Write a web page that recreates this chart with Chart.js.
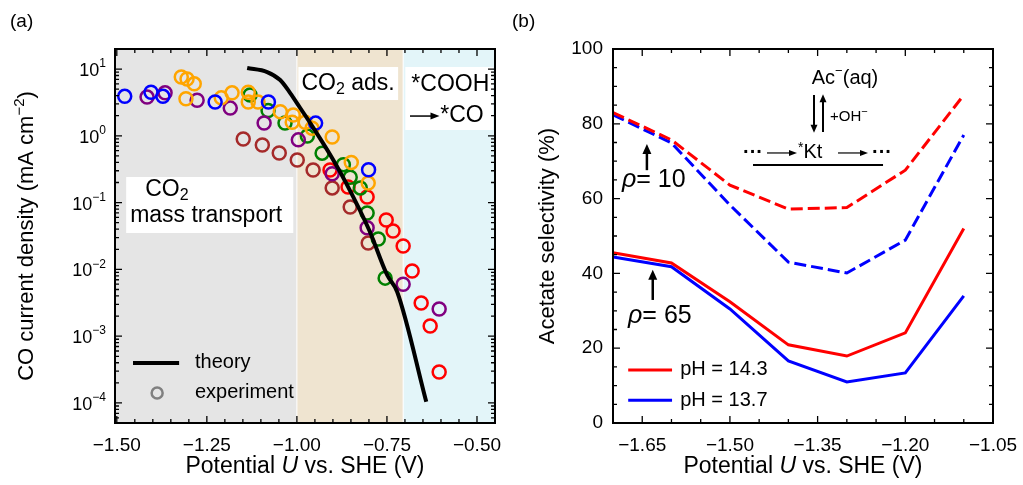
<!DOCTYPE html>
<html><head><meta charset="utf-8">
<script src="https://cdn.jsdelivr.net/npm/chart.js@4.4.1/dist/chart.umd.min.js"></script>
<style>
html,body{margin:0;padding:0;background:#fff;overflow:hidden}
#wrap{position:relative;width:1023px;height:485px;background:#fff}
#a{position:absolute;left:0;top:0}
#b{position:absolute;left:510px;top:0}
</style></head><body>
<div id="wrap"><canvas id="a" width="510" height="485"></canvas><canvas id="b" width="513" height="485"></canvas></div>
<script>
const FONT = '"Liberation Sans", Arial, Helvetica, sans-serif';

// ---------------- Panel (a) data ----------------
const theoryU = [-1.138,-1.0825,-1.0464,-1.0186,-0.9908,-0.9575,-0.9022,-0.8633,-0.7994,-0.7494,-0.7214,-0.6408];
const theoryJ = [10.35,9.02,6.84,4.37,2.61,1.40,0.466,0.196,0.0389,0.00824,0.00459,1.04e-4];

const blueU   = [-1.478,-1.405,-1.372,-1.227,-1.079,-0.948,-0.801];
const blueJ   = [3.9,4.5,3.9,3.2,3.2,1.55,0.31];
const orangeU = [-1.321,-1.305,-1.285,-1.308,-1.210,-1.180,-1.135,-1.135,-1.108,-1.046,-1.010,-1.013,-0.977,-0.958,-0.902,-0.849,-0.802];
const orangeJ = [7.6,7.1,6.0,3.6,3.7,4.4,4.5,3.2,3.2,2.3,2.05,1.6,1.6,1.3,0.96,0.40,0.196];
const purpleU = [-1.416,-1.366,-1.277,-1.185,-1.091,-0.996,-0.902,-0.805,-0.705,-0.605];
const purpleJ = [3.8,4.4,3.4,2.6,1.56,0.87,0.27,0.042,0.0060,0.00255];
const greenU  = [-1.130,-1.080,-1.033,-0.971,-0.930,-0.871,-0.852,-0.824,-0.805,-0.774,-0.755];
const greenJ  = [4.1,2.4,1.56,0.99,0.55,0.37,0.24,0.166,0.070,0.0285,0.0074];
const redU    = [-0.908,-0.858,-0.805,-0.752,-0.733,-0.705,-0.680,-0.655,-0.630,-0.605];
const redJ    = [0.308,0.171,0.121,0.0549,0.0376,0.0224,0.00946,0.00314,0.00142,2.91e-4];
const brownU  = [-1.149,-1.096,-1.049,-0.999,-0.955,-0.902,-0.852,-0.802];
const brownJ  = [0.895,0.728,0.553,0.434,0.308,0.166,0.0859,0.0248];

const aXMajor = [-1.50,-1.25,-1.00,-0.75,-0.50];
const aXMinor = [-1.45,-1.40,-1.35,-1.30,-1.20,-1.15,-1.10,-1.05,-0.95,-0.90,-0.85,-0.80,-0.70,-0.65,-0.60,-0.55,-0.45];
const aYExp   = [-4,-3,-2,-1,0,1];
const aRegionEdges  = [-1.00,-0.705];
const aRegionColors = ['#e5e5e5','#efe4d0','#e3f5f9'];

// ---------------- Panel (b) data ----------------
const bU        = [-1.70,-1.60,-1.50,-1.40,-1.30,-1.20,-1.10];
const selPH143r65 = [45.5,42.8,32.4,20.9,17.9,24.1,52.0];
const selPH137r65 = [44.4,41.8,30.5,16.6,11.0,13.4,34.0];
const selPH143r10 = [83.0,75.7,63.6,57.2,57.6,67.6,87.7];
const selPH137r10 = [82.4,74.9,58.3,43.0,40.1,48.9,77.0];
const bXMajor = [-1.65,-1.50,-1.35,-1.20,-1.05];
const bXMinor = [-1.60,-1.55,-1.45,-1.40,-1.30,-1.25,-1.15,-1.10];
const bYMajor = [0,20,40,60,80,100];
const bYMinor = [5,10,15,25,30,35,45,50,55,65,70,75,85,90,95];

// ---------------- helpers ----------------
const pts = (u,v)=>u.map((x,i)=>({x:x,y:v[i]}));
const fmtU = v => (v<0?'\u2212':'') + Math.abs(v).toFixed(2);

function rich(ctx, parts, x, y, align){
  let w = 0;
  const ws = parts.map(p=>{ctx.font=(p[2]||'')+' '+p[1]+'px '+FONT; const m=ctx.measureText(p[0]).width; w+=m; return m;});
  let cx = align==='center' ? x-w/2 : (align==='right' ? x-w : x);
  ctx.textBaseline='middle'; ctx.textAlign='left'; ctx.fillStyle='#000';
  parts.forEach((p,i)=>{ctx.font=(p[2]||'')+' '+p[1]+'px '+FONT; ctx.fillText(p[0],cx,y+(p[3]||0)); cx+=ws[i];});
  return w;
}
function arrow(ctx,x1,y1,x2,y2,lw,hl,hw){
  const ang=Math.atan2(y2-y1,x2-x1);
  ctx.save(); ctx.strokeStyle='#000'; ctx.fillStyle='#000'; ctx.lineWidth=lw;
  ctx.beginPath(); ctx.moveTo(x1,y1); ctx.lineTo(x2-Math.cos(ang)*hl*0.7, y2-Math.sin(ang)*hl*0.7); ctx.stroke();
  ctx.translate(x2,y2); ctx.rotate(ang);
  ctx.beginPath(); ctx.moveTo(0,0); ctx.lineTo(-hl,-hw); ctx.lineTo(-hl,hw); ctx.closePath(); ctx.fill();
  ctx.restore();
}
function inTicks(chart, xMaj, xMin, yMaj, yMin){
  const ctx=chart.ctx, a=chart.chartArea, X=chart.scales.x, Y=chart.scales.y;
  ctx.save(); ctx.strokeStyle='#000'; ctx.lineWidth=1.3;
  ctx.beginPath();
  const xs=(vals,len)=>vals.forEach(v=>{const p=X.getPixelForValue(v); if(p<a.left+1||p>a.right-1) return;
    ctx.moveTo(p,a.bottom); ctx.lineTo(p,a.bottom-len); ctx.moveTo(p,a.top); ctx.lineTo(p,a.top+len);});
  const ys=(vals,len)=>vals.forEach(v=>{const p=Y.getPixelForValue(v); if(p<a.top+1||p>a.bottom-1) return;
    ctx.moveTo(a.left,p); ctx.lineTo(a.left+len,p); ctx.moveTo(a.right,p); ctx.lineTo(a.right-len,p);});
  xs(xMaj,7); xs(xMin,4); ys(yMaj,7); ys(yMin,4);
  ctx.stroke();
  ctx.lineWidth=2;
  ctx.strokeRect(a.left,a.top,a.right-a.left,a.bottom-a.top);
  ctx.restore();
}
function whiteBox(ctx,X,Y,x0,y0,x1,y1){
  const px0=X.getPixelForValue(x0), px1=X.getPixelForValue(x1), py0=Y.getPixelForValue(y0), py1=Y.getPixelForValue(y1);
  ctx.fillStyle='#fff'; ctx.fillRect(px0,Math.min(py0,py1),px1-px0,Math.abs(py1-py0));
}
function xTitle(ctx,a,y){
  rich(ctx,[['Potential ',23,''],['U',23,'italic'],[' vs. SHE (V)',23,'']],(a.left+a.right)/2,y,'center');
}

// ---------------- Panel (a) ----------------
const aMinorY = [];
for(let e=-5;e<=1;e++){ for(let k=2;k<=9;k++){ aMinorY.push(k*Math.pow(10,e)); } }
const aYMin = Math.pow(10,-4.3), aYMax = Math.pow(10,1.3);

const panelA = {
  id:'panelA',
  beforeDatasetsDraw(chart){
    const ctx=chart.ctx, a=chart.chartArea, X=chart.scales.x;
    const edges=[X.min].concat(aRegionEdges,[X.max]);
    ctx.save();
    for(let i=0;i<aRegionColors.length;i++){
      const x0=X.getPixelForValue(edges[i]), x1=X.getPixelForValue(edges[i+1]);
      ctx.fillStyle=aRegionColors[i]; ctx.fillRect(x0,a.top,x1-x0,a.bottom-a.top);
    }
    ctx.strokeStyle='#ffffff'; ctx.lineWidth=1;
    aRegionEdges.forEach(v=>{const p=X.getPixelForValue(v); ctx.beginPath(); ctx.moveTo(p,a.top); ctx.lineTo(p,a.bottom); ctx.stroke();});
    ctx.restore();
  },
  afterDatasetsDraw(chart){
    const ctx=chart.ctx, a=chart.chartArea, X=chart.scales.x, Y=chart.scales.y;
    const L=e=>Math.pow(10,e);
    ctx.save();
    whiteBox(ctx,X,Y,-0.996,L(1.03),-0.719,L(0.536));
    rich(ctx,[['CO',23,''],['2',16,'',6],[' ads.',23,'']],X.getPixelForValue(-0.858),Y.getPixelForValue(L(0.775)),'center');
    whiteBox(ctx,X,Y,-0.699,L(1.03),-0.455,L(0.087));
    rich(ctx,[['*COOH',23,'']],X.getPixelForValue(-0.574),Y.getPixelForValue(L(0.760)),'center');
    arrow(ctx,X.getPixelForValue(-0.686),Y.getPixelForValue(L(0.296)),X.getPixelForValue(-0.604),Y.getPixelForValue(L(0.296)),1.5,9,3.5);
    rich(ctx,[['*CO',23,'']],X.getPixelForValue(-0.602),Y.getPixelForValue(L(0.296)),'left');
    whiteBox(ctx,X,Y,-1.474,L(-0.617),-1.010,L(-1.455));
    rich(ctx,[['CO',23,''],['2',16,'',6]],X.getPixelForValue(-1.421),Y.getPixelForValue(L(-0.811)),'left');
    rich(ctx,[['mass transport',23,'']],X.getPixelForValue(-1.463),Y.getPixelForValue(L(-1.201)),'left');
    const ly1=Y.getPixelForValue(L(-3.401)), ly2=Y.getPixelForValue(L(-3.850));
    ctx.strokeStyle='#000'; ctx.lineWidth=4;
    ctx.beginPath(); ctx.moveTo(X.getPixelForValue(-1.455),ly1); ctx.lineTo(X.getPixelForValue(-1.327),ly1); ctx.stroke();
    rich(ctx,[['theory',20,'']],X.getPixelForValue(-1.283),ly1,'left');
    ctx.strokeStyle='#808080'; ctx.lineWidth=2.5;
    ctx.beginPath(); ctx.arc(X.getPixelForValue(-1.388),ly2,5.5,0,Math.PI*2); ctx.stroke();
    rich(ctx,[['experiment',20,'']],X.getPixelForValue(-1.283),ly2,'left');
    ctx.restore();
    inTicks(chart,aXMajor,aXMinor,aYExp.map(e=>Math.pow(10,e)),aMinorY);
  },
  afterDraw(chart){
    const ctx=chart.ctx, a=chart.chartArea, Y=chart.scales.y;
    ctx.save();
    aYExp.forEach(e=>{
      const p=Y.getPixelForValue(Math.pow(10,e));
      const ex=(e<0?'\u2212':'')+Math.abs(e);
      ctx.font='12px '+FONT; const we=ctx.measureText(ex).width;
      const right=a.left-9;
      ctx.textBaseline='middle';
      ctx.textAlign='right'; ctx.font='18px '+FONT; ctx.fillStyle='#000';
      ctx.fillText('10',right-we,p+2);
      ctx.textAlign='left'; ctx.font='12px '+FONT;
      ctx.fillText(ex,right-we,p-5);
    });
    xTitle(ctx,a,a.bottom+44);
    ctx.translate(27,(a.top+a.bottom)/2); ctx.rotate(-Math.PI/2);
    rich(ctx,[['CO current density (mA cm',22,''],['\u22122',15,'',-7],[')',22,'']],0,0,'center');
    ctx.restore();
    ctx.save();
    rich(ctx,[['(a)',19,'']],10,22,'left');
    ctx.restore();
  }
};

const expSeries = [
  {c:'#0000ff',u:blueU,j:blueJ},
  {c:'#ffa500',u:orangeU,j:orangeJ},
  {c:'#800080',u:purpleU,j:purpleJ},
  {c:'#008000',u:greenU,j:greenJ},
  {c:'#ff0000',u:redU,j:redJ},
  {c:'#a52a2a',u:brownU,j:brownJ}
];

new Chart(document.getElementById('a'),{
  type:'scatter',
  data:{datasets:[
    {data:pts(theoryU,theoryJ),showLine:true,borderColor:'#000',borderWidth:4,pointRadius:0,cubicInterpolationMode:'monotone',fill:false}
  ].concat(expSeries.map(s=>({data:pts(s.u,s.j),showLine:false,pointRadius:6.5,pointBorderWidth:2.5,pointBackgroundColor:'rgba(0,0,0,0)',pointBorderColor:s.c,borderColor:s.c,backgroundColor:'rgba(0,0,0,0)'})))},
  options:{
    responsive:false,animation:false,events:[],
    layout:{padding:{left:0,right:15,top:49,bottom:0}},
    plugins:{legend:{display:false},tooltip:{enabled:false}},
    scales:{
      x:{type:'linear',min:-1.505,max:-0.45,
        grid:{display:false,drawTicks:false},border:{display:false},
        ticks:{autoSkip:false,maxRotation:0,padding:11,color:'#000',font:{size:19,family:FONT},callback:v=>fmtU(v)},
        afterBuildTicks:s=>{s.ticks=aXMajor.map(v=>({value:v}));},
        afterFit:s=>{s.height=62;s.paddingLeft=0;s.paddingRight=0;}},
      y:{type:'logarithmic',min:aYMin,max:aYMax,
        grid:{display:false,drawTicks:false},border:{display:false},
        ticks:{display:false},
        afterBuildTicks:s=>{s.ticks=aYExp.map(e=>({value:Math.pow(10,e)}));},
        afterFit:s=>{s.width=115;s.paddingTop=0;s.paddingBottom=0;}}
    }
  },
  plugins:[panelA]
});

// ---------------- Panel (b) ----------------
const panelB = {
  id:'panelB',
  afterDatasetsDraw(chart){
    const ctx=chart.ctx, a=chart.chartArea, X=chart.scales.x, Y=chart.scales.y;
    const px=v=>X.getPixelForValue(v), py=v=>Y.getPixelForValue(v);
    ctx.save();
    arrow(ctx,px(-1.642),py(67.6),px(-1.642),py(74.6),2.5,10,4.5);
    rich(ctx,[['\u03c1',25,'italic'],['= 10',25,'']],px(-1.6846),py(65.0),'left');
    arrow(ctx,px(-1.632),py(32.9),px(-1.632),py(41.0),2.5,10,4.5);
    rich(ctx,[['\u03c1',25,'italic'],['= 65',25,'']],px(-1.6743),py(28.6),'left');
    rich(ctx,[['Ac',20,''],['\u2212',13,'',-7],['(aq)',20,'']],px(-1.3031),py(92.2),'center');
    arrow(ctx,px(-1.3562),py(87.7),px(-1.3562),py(77.6),2,8,3.5);
    arrow(ctx,px(-1.3408),py(77.8),px(-1.3408),py(87.9),2,8,3.5);
    rich(ctx,[['+OH',15,''],['\u2212',11,'',-5]],px(-1.3288),py(81.8),'left');
    rich(ctx,[['\u00b7\u00b7\u00b7',20,'bold']],px(-1.4776),py(72.2),'left');
    arrow(ctx,px(-1.4366),py(72.2),px(-1.3853),py(72.2),1.2,8,3);
    rich(ctx,[['*',14,'',-5],['Kt',20,'']],px(-1.3835),py(72.2),'left');
    arrow(ctx,px(-1.3151),py(72.2),px(-1.2638),py(72.2),1.2,8,3);
    rich(ctx,[['\u00b7\u00b7\u00b7',20,'bold']],px(-1.2570),py(72.2),'left');
    ctx.strokeStyle='#000'; ctx.lineWidth=2;
    ctx.beginPath(); ctx.moveTo(px(-1.4605),py(69.0)); ctx.lineTo(px(-1.2381),py(69.0)); ctx.stroke();
    ctx.lineWidth=3;
    ctx.strokeStyle='#ff0000'; ctx.beginPath(); ctx.moveTo(px(-1.674),py(14.2)); ctx.lineTo(px(-1.599),py(14.2)); ctx.stroke();
    rich(ctx,[['pH = 14.3',20,'']],px(-1.585),py(14.2),'left');
    ctx.strokeStyle='#0000ff'; ctx.beginPath(); ctx.moveTo(px(-1.674),py(6.1)); ctx.lineTo(px(-1.599),py(6.1)); ctx.stroke();
    rich(ctx,[['pH = 13.7',20,'']],px(-1.585),py(6.1),'left');
    ctx.restore();
    inTicks(chart,bXMajor,bXMinor,bYMajor,bYMinor);
  },
  afterDraw(chart){
    const ctx=chart.ctx, a=chart.chartArea;
    ctx.save();
    xTitle(ctx,a,a.bottom+44);
    ctx.translate(38,(a.top+a.bottom)/2); ctx.rotate(-Math.PI/2);
    rich(ctx,[['Acetate selectivity (%)',22,'']],0,0,'center');
    ctx.restore();
    ctx.save();
    rich(ctx,[['(b)',19,'']],2,22,'left');
    ctx.restore();
  }
};

const lineDs=(v,c,dash)=>({data:pts(bU,v),showLine:true,borderColor:c,borderWidth:3,pointRadius:0,borderDash:dash,fill:false,tension:0});
new Chart(document.getElementById('b'),{
  type:'scatter',
  data:{datasets:[
    lineDs(selPH143r10,'#ff0000',[12,5]),
    lineDs(selPH137r10,'#0000ff',[12,5]),
    lineDs(selPH143r65,'#ff0000',[]),
    lineDs(selPH137r65,'#0000ff',[])
  ]},
  options:{
    responsive:false,animation:false,events:[],
    layout:{padding:{left:0,right:30,top:49,bottom:0}},
    plugins:{legend:{display:false},tooltip:{enabled:false}},
    scales:{
      x:{type:'linear',min:-1.70,max:-1.05,
        grid:{display:false,drawTicks:false},border:{display:false},
        ticks:{autoSkip:false,maxRotation:0,padding:11,color:'#000',font:{size:19,family:FONT},callback:v=>fmtU(v)},
        afterBuildTicks:s=>{s.ticks=bXMajor.map(v=>({value:v}));},
        afterFit:s=>{s.height=62;s.paddingLeft=0;s.paddingRight=0;}},
      y:{type:'linear',min:0,max:100,
        grid:{display:false,drawTicks:false},border:{display:false},
        ticks:{autoSkip:false,padding:10,color:'#000',font:{size:19,family:FONT},callback:v=>String(v)},
        afterBuildTicks:s=>{s.ticks=bYMajor.map(v=>({value:v}));},
        afterFit:s=>{s.width=103;s.paddingTop=0;s.paddingBottom=0;}}
    }
  },
  plugins:[panelB]
});
</script>
</body></html>
